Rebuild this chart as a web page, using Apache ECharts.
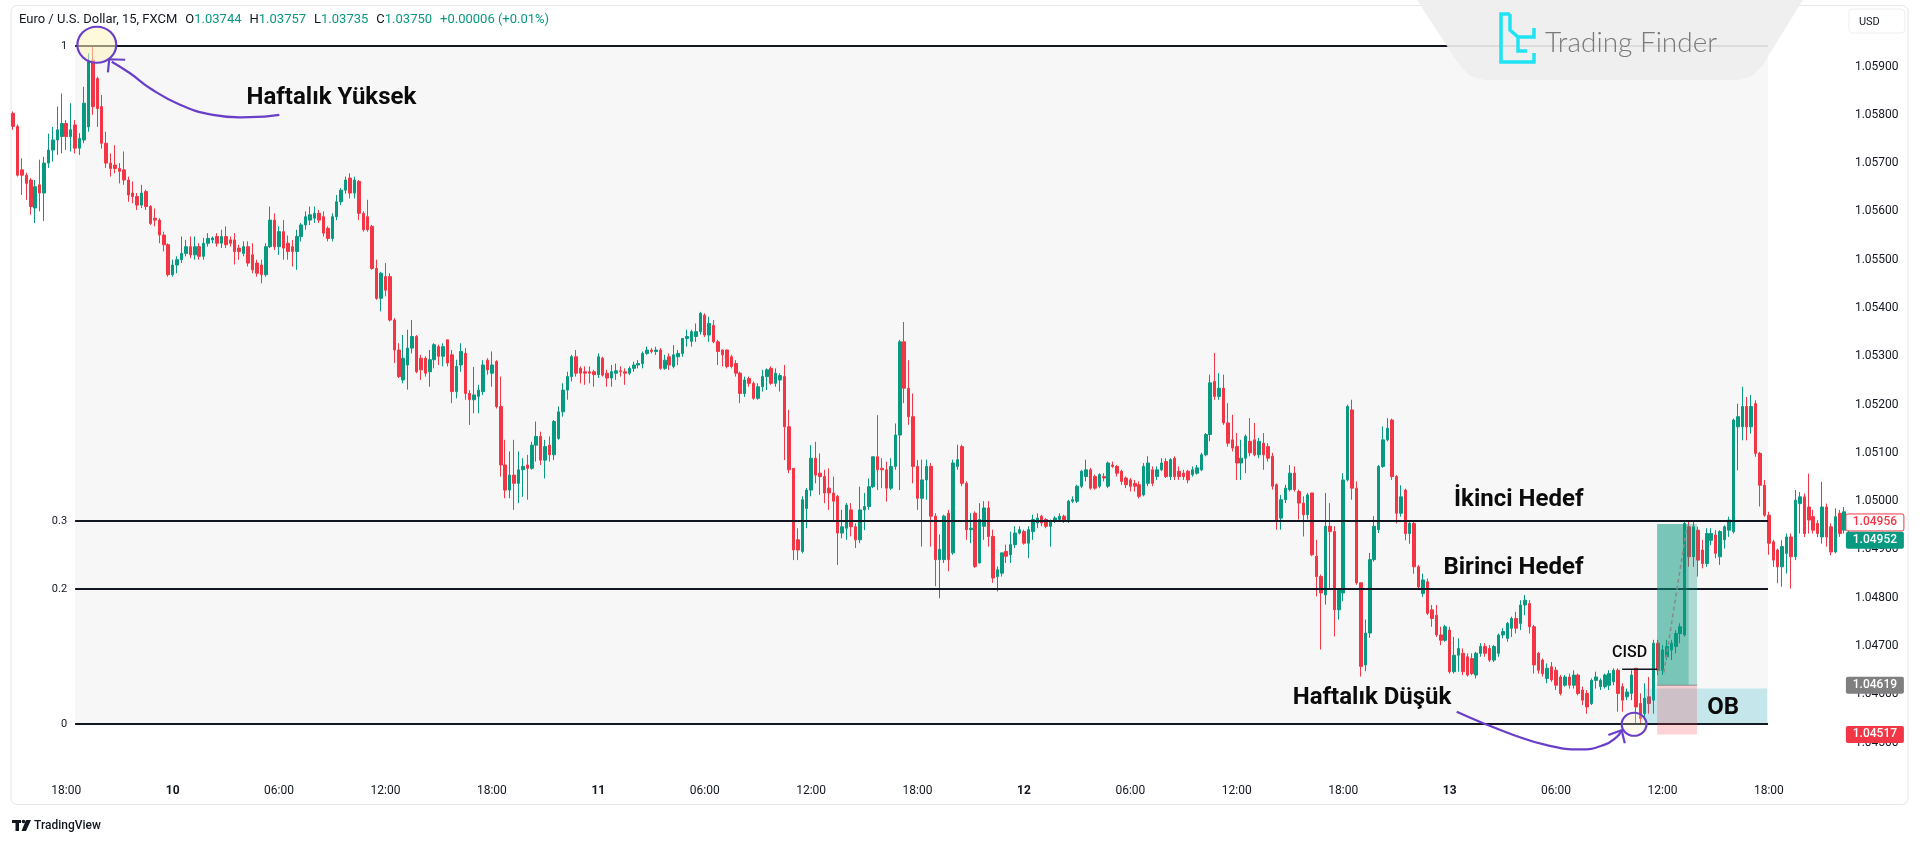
<!DOCTYPE html>
<html>
<head>
<meta charset="utf-8">
<script src="https://cdn.jsdelivr.net/npm/echarts@6/dist/echarts.min.js"></script>
<style>
html,body{margin:0;padding:0;background:#fff;}
#c{width:1920px;height:842px;}
</style>
</head>
<body>
<div id="c"></div>
<script>
// ===== Data (EUR/USD, 15 min, FXCM) =====
const START_UTC = Date.UTC(2024, 11, 9, 15, 0); // first candle: day 9, 15:00
const open = [
1.05803,1.05776,1.05686,1.05675,1.05665,1.05607,1.05655,1.05638,1.05700,1.05727,
1.05748,1.05755,1.05782,1.05755,1.05779,1.05731,1.05748,1.05775,1.05913,1.05875,
1.05817,1.05741,1.05700,1.05696,1.05689,1.05686,1.05665,1.05638,1.05631,1.05613,
1.05641,1.05610,1.05586,1.05582,1.05551,1.05531,1.05469,1.05489,1.05500,1.05513,
1.05527,1.05510,1.05527,1.05507,1.05534,1.05541,1.05548,1.05534,1.05548,1.05541,
1.05541,1.05524,1.05513,1.05527,1.05510,1.05493,1.05489,1.05469,1.05527,1.05582,
1.05527,1.05558,1.05534,1.05527,1.05517,1.05548,1.05572,1.05582,1.05586,1.05596,
1.05589,1.05565,1.05544,1.05589,1.05620,1.05644,1.05669,1.05638,1.05662,1.05596,
1.05589,1.05569,1.05482,1.05420,1.05465,1.05465,1.05375,1.05313,1.05251,1.05282,
1.05317,1.05341,1.05296,1.05296,1.05268,1.05293,1.05320,1.05300,1.05334,1.05303,
1.05227,1.05282,1.05306,1.05223,1.05210,1.05217,1.05227,1.05292,1.05265,1.05289,
1.05196,1.05075,1.05023,1.05054,1.05037,1.05065,1.05075,1.05068,1.05116,1.05134,
1.05085,1.05116,1.05096,1.05130,1.05185,1.05230,1.05258,1.05299,1.05275,1.05268,
1.05268,1.05268,1.05262,1.05296,1.05265,1.05255,1.05265,1.05270,1.05268,1.05265,
1.05275,1.05282,1.05285,1.05306,1.05313,1.05310,1.05313,1.05275,1.05299,1.05279,
1.05299,1.05306,1.05337,1.05331,1.05341,1.05351,1.05385,1.05344,1.05364,1.05330,
1.05313,1.05313,1.05299,1.05285,1.05265,1.05223,1.05254,1.05244,1.05213,1.05237,
1.05258,1.05275,1.05244,1.05251,1.05258,1.05154,1.05068,1.04920,1.04896,1.04985,
1.05023,1.05089,1.05058,1.05051,1.05027,1.05017,1.05010,1.04934,1.04944,1.04982,
1.04947,1.04920,1.04982,1.04989,1.05030,1.05092,1.05068,1.05065,1.05027,1.05072,
1.05137,1.05330,1.05234,1.05175,1.05072,1.05006,1.05044,1.05072,1.04969,1.04879,
1.04879,1.04975,1.04893,1.05072,1.05113,1.05037,1.04941,1.04975,1.04872,1.04948,
1.04986,1.04927,1.04844,1.04851,1.04896,1.04889,1.04910,1.04934,1.04937,1.04913,
1.04937,1.04955,1.04969,1.04962,1.04948,1.04958,1.04962,1.04969,1.04958,1.05000,
1.05000,1.05031,1.05051,1.05065,1.05051,1.05031,1.05051,1.05031,1.05075,1.05072,
1.05062,1.05048,1.05044,1.05037,1.05034,1.05013,1.05037,1.05065,1.05051,1.05065,
1.05082,1.05051,1.05089,1.05062,1.05058,1.05062,1.05055,1.05058,1.05065,1.05096,
1.05138,1.05248,1.05217,1.05234,1.05162,1.05127,1.05113,1.05079,1.05089,1.05124,
1.05127,1.05096,1.05120,1.05113,1.05093,1.05034,1.04965,1.05003,1.05024,1.05058,
1.05020,1.04996,1.04972,1.05017,1.04886,1.04844,1.04806,1.04948,1.04937,1.04775,
1.04810,1.05044,1.05189,1.05027,1.04831,1.04661,1.04727,1.04879,1.04941,1.05072,
1.05127,1.05168,1.05051,1.04975,1.05023,1.04933,1.04954,1.04864,1.04809,1.04833,
1.04775,1.04764,1.04723,1.04712,1.04733,1.04647,1.04681,1.04685,1.04678,1.04674,
1.04640,1.04685,1.04699,1.04695,1.04671,1.04685,1.04723,1.04716,1.04737,1.04757,
1.04747,1.04785,1.04788,1.04740,1.04685,1.04671,1.04633,1.04657,1.04650,1.04636,
1.04619,1.04636,1.04619,1.04640,1.04609,1.04602,1.04581,1.04629,1.04616,1.04616,
1.04619,1.04626,1.04650,1.04616,1.04595,1.04602,1.04654,1.04581,1.04560,1.04595,
1.04588,1.04706,1.04650,1.04678,1.04692,1.04699,1.04726,1.04723,1.04947,1.04885,
1.04940,1.04899,1.04871,1.04919,1.04930,1.04885,1.04920,1.04940,1.04937,1.05154,
1.05154,1.05196,1.05154,1.05202,1.05099,1.05033,1.04971,1.04916,1.04899,1.04864,
1.04892,1.04926,1.04885,1.04995,1.05009,1.04988,1.04968,1.04954,1.04926,1.04988,
1.04947,1.04895,1.04975,1.04940,1.04943
];
const high = [
1.05807,1.05780,1.05710,1.05680,1.05669,1.05665,1.05707,1.05713,1.05761,1.05775,
1.05817,1.05844,1.05789,1.05824,1.05789,1.05762,1.05858,1.05927,1.05943,1.05879,
1.05841,1.05765,1.05720,1.05737,1.05700,1.05724,1.05672,1.05662,1.05638,1.05655,
1.05645,1.05613,1.05606,1.05586,1.05558,1.05534,1.05500,1.05507,1.05548,1.05541,
1.05548,1.05548,1.05534,1.05545,1.05555,1.05548,1.05555,1.05562,1.05569,1.05548,
1.05555,1.05531,1.05538,1.05538,1.05534,1.05500,1.05500,1.05534,1.05610,1.05596,
1.05569,1.05582,1.05550,1.05541,1.05562,1.05576,1.05600,1.05610,1.05610,1.05603,
1.05600,1.05569,1.05596,1.05634,1.05648,1.05672,1.05679,1.05672,1.05665,1.05600,
1.05624,1.05572,1.05500,1.05475,1.05493,1.05472,1.05379,1.05327,1.05344,1.05355,
1.05375,1.05344,1.05303,1.05300,1.05313,1.05327,1.05324,1.05327,1.05334,1.05313,
1.05293,1.05327,1.05317,1.05230,1.05278,1.05241,1.05292,1.05296,1.05310,1.05292,
1.05258,1.05127,1.05103,1.05127,1.05103,1.05089,1.05096,1.05123,1.05165,1.05144,
1.05127,1.05134,1.05168,1.05196,1.05244,1.05268,1.05303,1.05313,1.05279,1.05279,
1.05279,1.05272,1.05306,1.05299,1.05272,1.05282,1.05285,1.05279,1.05275,1.05279,
1.05289,1.05292,1.05310,1.05320,1.05317,1.05320,1.05317,1.05303,1.05306,1.05323,
1.05313,1.05337,1.05355,1.05355,1.05368,1.05392,1.05389,1.05382,1.05375,1.05334,
1.05314,1.05314,1.05303,1.05292,1.05268,1.05258,1.05258,1.05248,1.05244,1.05272,
1.05275,1.05279,1.05275,1.05265,1.05282,1.05189,1.05068,1.04944,1.05010,1.05027,
1.05116,1.05123,1.05099,1.05065,1.05068,1.05051,1.05013,1.04982,1.04996,1.04996,
1.04954,1.05030,1.05017,1.05047,1.05092,1.05178,1.05089,1.05082,1.05089,1.05161,
1.05334,1.05371,1.05292,1.05223,1.05085,1.05086,1.05086,1.05079,1.04975,1.04931,
1.04972,1.04982,1.05086,1.05117,1.05117,1.05041,1.04975,1.04979,1.04996,1.05000,
1.05000,1.04941,1.04865,1.04893,1.04910,1.04937,1.04948,1.04948,1.04941,1.04948,
1.04972,1.04975,1.04972,1.04965,1.04962,1.04969,1.04975,1.04972,1.05003,1.05010,
1.05034,1.05065,1.05086,1.05069,1.05055,1.05058,1.05058,1.05082,1.05082,1.05075,
1.05065,1.05051,1.05048,1.05044,1.05041,1.05079,1.05093,1.05072,1.05072,1.05089,
1.05089,1.05089,1.05093,1.05072,1.05065,1.05065,1.05072,1.05075,1.05100,1.05141,
1.05262,1.05307,1.05265,1.05262,1.05203,1.05179,1.05141,1.05127,1.05138,1.05172,
1.05162,1.05131,1.05141,1.05120,1.05100,1.05037,1.05013,1.05034,1.05075,1.05072,
1.05024,1.05010,1.05017,1.05017,1.04920,1.04848,1.05017,1.04996,1.04948,1.04820,
1.05058,1.05200,1.05210,1.05041,1.04831,1.04755,1.04893,1.04969,1.05075,1.05155,
1.05172,1.05171,1.05054,1.05033,1.05026,1.04957,1.04961,1.04868,1.04850,1.04840,
1.04785,1.04785,1.04740,1.04744,1.04740,1.04719,1.04716,1.04695,1.04685,1.04685,
1.04688,1.04706,1.04706,1.04702,1.04702,1.04726,1.04737,1.04750,1.04761,1.04771,
1.04795,1.04806,1.04795,1.04744,1.04688,1.04674,1.04664,1.04667,1.04657,1.04640,
1.04640,1.04643,1.04650,1.04643,1.04616,1.04609,1.04633,1.04647,1.04633,1.04643,
1.04650,1.04654,1.04654,1.04623,1.04612,1.04650,1.04654,1.04602,1.04623,1.04636,
1.04713,1.04713,1.04702,1.04713,1.04713,1.04733,1.04747,1.04961,1.04961,1.04961,
1.04947,1.04920,1.04944,1.04944,1.04940,1.04940,1.04950,1.04968,1.05171,1.05202,
1.05237,1.05216,1.05220,1.05209,1.05102,1.05044,1.04978,1.04920,1.04902,1.04919,
1.04933,1.04933,1.05023,1.05019,1.05016,1.05057,1.04982,1.04961,1.05040,1.04995,
1.04954,1.04985,1.04982,1.04988,1.04957
];
const low = [
1.05769,1.05672,1.05634,1.05624,1.05593,1.05576,1.05600,1.05580,1.05690,1.05703,
1.05717,1.05720,1.05727,1.05724,1.05720,1.05717,1.05741,1.05765,1.05800,1.05775,
1.05730,1.05690,1.05672,1.05679,1.05658,1.05655,1.05620,1.05617,1.05603,1.05607,
1.05603,1.05572,1.05569,1.05534,1.05517,1.05465,1.05465,1.05472,1.05493,1.05507,
1.05503,1.05500,1.05500,1.05500,1.05527,1.05534,1.05527,1.05524,1.05524,1.05527,
1.05490,1.05500,1.05507,1.05486,1.05472,1.05465,1.05451,1.05465,1.05524,1.05520,
1.05510,1.05500,1.05500,1.05486,1.05479,1.05538,1.05562,1.05572,1.05576,1.05576,
1.05548,1.05538,1.05538,1.05582,1.05613,1.05637,1.05627,1.05627,1.05582,1.05558,
1.05558,1.05479,1.05417,1.05393,1.05424,1.05372,1.05286,1.05255,1.05244,1.05231,
1.05306,1.05265,1.05251,1.05258,1.05237,1.05275,1.05282,1.05279,1.05279,1.05203,
1.05213,1.05268,1.05210,1.05158,1.05182,1.05182,1.05220,1.05262,1.05237,1.05192,
1.05051,1.05006,1.05006,1.04982,1.04996,1.05009,1.05003,1.05065,1.05082,1.05075,
1.05047,1.05082,1.05085,1.05127,1.05175,1.05210,1.05248,1.05258,1.05244,1.05241,
1.05244,1.05237,1.05255,1.05258,1.05237,1.05237,1.05251,1.05258,1.05241,1.05261,
1.05268,1.05275,1.05275,1.05303,1.05306,1.05303,1.05272,1.05272,1.05272,1.05275,
1.05282,1.05299,1.05320,1.05320,1.05330,1.05345,1.05340,1.05330,1.05327,1.05282,
1.05279,1.05275,1.05275,1.05258,1.05203,1.05216,1.05237,1.05210,1.05210,1.05227,
1.05230,1.05241,1.05237,1.05227,1.05085,1.05058,1.04878,1.04878,1.04892,1.04944,
1.05010,1.05037,1.05013,1.04996,1.04982,1.04961,1.04868,1.04923,1.04920,1.04927,
1.04903,1.04913,1.04940,1.04982,1.05027,1.05023,1.05027,1.04999,1.05023,1.05065,
1.05023,1.05203,1.05158,1.05037,1.04982,1.04906,1.05003,1.04906,1.04824,1.04799,
1.04872,1.04855,1.04889,1.05065,1.05031,1.04920,1.04913,1.04862,1.04872,1.04920,
1.04906,1.04831,1.04813,1.04844,1.04872,1.04872,1.04903,1.04931,1.04910,1.04882,
1.04920,1.04944,1.04948,1.04944,1.04906,1.04955,1.04958,1.04955,1.04955,1.04996,
1.04996,1.05027,1.05041,1.05024,1.05024,1.05027,1.05041,1.05027,1.05069,1.05051,
1.05034,1.05027,1.05020,1.05020,1.05006,1.05010,1.05031,1.05031,1.05044,1.05062,
1.05048,1.05044,1.05044,1.05044,1.05044,1.05037,1.05051,1.05055,1.05062,1.05093,
1.05124,1.05210,1.05210,1.05158,1.05113,1.05103,1.05044,1.05044,1.05058,1.05093,
1.05093,1.05089,1.05065,1.05082,1.05024,1.04941,1.04941,1.04996,1.05020,1.05020,
1.04962,1.04927,1.04962,1.04886,1.04803,1.04693,1.04786,1.04820,1.04720,1.04755,
1.04793,1.05041,1.05003,1.04827,1.04637,1.04648,1.04717,1.04875,1.04934,1.05069,
1.05124,1.05044,1.04954,1.04968,1.04919,1.04912,1.04850,1.04816,1.04802,1.04764,
1.04740,1.04719,1.04702,1.04709,1.04643,1.04643,1.04647,1.04640,1.04637,1.04640,
1.04633,1.04678,1.04678,1.04667,1.04667,1.04678,1.04716,1.04709,1.04719,1.04726,
1.04733,1.04764,1.04726,1.04643,1.04643,1.04637,1.04623,1.04626,1.04609,1.04598,
1.04616,1.04612,1.04612,1.04598,1.04578,1.04560,1.04578,1.04612,1.04609,1.04612,
1.04609,1.04619,1.04564,1.04564,1.04588,1.04588,1.04538,1.04538,1.04547,1.04560,
1.04560,1.04640,1.04640,1.04671,1.04671,1.04685,1.04706,1.04720,1.04864,1.04864,
1.04844,1.04861,1.04864,1.04909,1.04882,1.04868,1.04902,1.04926,1.04933,1.05064,
1.05126,1.05126,1.05140,1.05092,1.04989,1.04968,1.04889,1.04864,1.04830,1.04823,
1.04850,1.04819,1.04878,1.04933,1.04926,1.04933,1.04933,1.04926,1.04912,1.04906,
1.04888,1.04892,1.04926,1.04933,1.04905
];
const close = [
1.05776,1.05675,1.05675,1.05658,1.05610,1.05651,1.05638,1.05700,1.05727,1.05748,
1.05769,1.05782,1.05755,1.05769,1.05731,1.05751,1.05824,1.05910,1.05817,1.05813,
1.05741,1.05700,1.05689,1.05689,1.05683,1.05665,1.05634,1.05631,1.05613,1.05638,
1.05610,1.05575,1.05582,1.05551,1.05531,1.05469,1.05489,1.05500,1.05513,1.05527,
1.05510,1.05527,1.05507,1.05534,1.05544,1.05545,1.05534,1.05548,1.05531,1.05534,
1.05517,1.05517,1.05527,1.05493,1.05479,1.05472,1.05469,1.05527,1.05582,1.05527,
1.05558,1.05524,1.05517,1.05517,1.05548,1.05572,1.05589,1.05593,1.05596,1.05582,
1.05555,1.05544,1.05589,1.05620,1.05644,1.05665,1.05638,1.05665,1.05596,1.05562,
1.05562,1.05482,1.05420,1.05472,1.05437,1.05375,1.05313,1.05258,1.05296,1.05317,
1.05341,1.05268,1.05272,1.05265,1.05293,1.05324,1.05300,1.05320,1.05286,1.05227,
1.05279,1.05310,1.05223,1.05210,1.05220,1.05230,1.05282,1.05272,1.05282,1.05196,
1.05075,1.05023,1.05054,1.05037,1.05065,1.05072,1.05068,1.05116,1.05134,1.05085,
1.05113,1.05096,1.05165,1.05185,1.05230,1.05258,1.05299,1.05265,1.05265,1.05265,
1.05265,1.05262,1.05299,1.05261,1.05255,1.05268,1.05270,1.05268,1.05265,1.05275,
1.05282,1.05285,1.05306,1.05313,1.05310,1.05313,1.05275,1.05292,1.05282,1.05303,
1.05306,1.05337,1.05341,1.05351,1.05351,1.05389,1.05344,1.05368,1.05330,1.05310,
1.05303,1.05279,1.05279,1.05265,1.05223,1.05251,1.05244,1.05213,1.05237,1.05258,
1.05272,1.05244,1.05265,1.05260,1.05154,1.05065,1.04899,1.04899,1.05003,1.05023,
1.05089,1.05054,1.05051,1.05017,1.05017,1.05000,1.04934,1.04947,1.04992,1.04947,
1.04920,1.04982,1.04989,1.05030,1.05092,1.05065,1.05065,1.05027,1.05072,1.05137,
1.05330,1.05234,1.05175,1.05072,1.05006,1.05044,1.05072,1.04969,1.04879,1.04900,
1.04969,1.04879,1.05079,1.05086,1.05037,1.04941,1.04944,1.04865,1.04962,1.04986,
1.04927,1.04841,1.04858,1.04893,1.04886,1.04910,1.04934,1.04941,1.04913,1.04941,
1.04962,1.04965,1.04955,1.04948,1.04958,1.04965,1.04969,1.04958,1.05000,1.05003,
1.05031,1.05062,1.05065,1.05027,1.05027,1.05055,1.05048,1.05079,1.05072,1.05058,
1.05041,1.05034,1.05031,1.05031,1.05010,1.05072,1.05079,1.05037,1.05065,1.05079,
1.05051,1.05086,1.05051,1.05051,1.05051,1.05044,1.05065,1.05069,1.05096,1.05138,
1.05245,1.05217,1.05234,1.05162,1.05120,1.05110,1.05079,1.05089,1.05134,1.05100,
1.05096,1.05124,1.05096,1.05089,1.05031,1.04958,1.05003,1.05027,1.05058,1.05024,
1.04996,1.04972,1.05013,1.04889,1.04844,1.04810,1.04948,1.04937,1.04775,1.04817,
1.05044,1.05196,1.05027,1.04831,1.04658,1.04727,1.04879,1.04948,1.05072,1.05127,
1.05151,1.05051,1.04975,1.05009,1.04933,1.04954,1.04864,1.04823,1.04837,1.04768,
1.04757,1.04723,1.04712,1.04740,1.04647,1.04681,1.04695,1.04647,1.04640,1.04643,
1.04685,1.04699,1.04685,1.04671,1.04699,1.04723,1.04730,1.04747,1.04757,1.04737,
1.04785,1.04795,1.04740,1.04661,1.04650,1.04643,1.04654,1.04630,1.04619,1.04602,
1.04636,1.04619,1.04640,1.04602,1.04588,1.04574,1.04629,1.04636,1.04629,1.04640,
1.04643,1.04650,1.04602,1.04588,1.04605,1.04640,1.04574,1.04550,1.04592,1.04581,
1.04706,1.04650,1.04692,1.04699,1.04706,1.04726,1.04740,1.04954,1.04885,1.04947,
1.04878,1.04871,1.04933,1.04933,1.04892,1.04937,1.04947,1.04961,1.05168,1.05175,
1.05196,1.05154,1.05196,1.05099,1.05033,1.04971,1.04913,1.04878,1.04864,1.04906,
1.04926,1.04885,1.05002,1.05009,1.04933,1.04961,1.04940,1.04933,1.04988,1.04926,
1.04895,1.04968,1.04933,1.04978,1.04952
];

// Fibonacci retracement (weekly high / weekly low)
const fibHigh = 1.05943, fibLow = 1.04538;
const fibLevels = [1, 0.3, 0.2, 0];
const fibFromIdx = 14, fibToIdx = 395.8;

// Long position tool / OB / CISD
const entryPrice = 1.04619, targetPrice = 1.04953, stopPrice = 1.04517;
const posFromIdx = 370.8, posToIdx = 379.8, posProgressIdx = 377.9;
const obTop = 1.04612, obBottom = 1.04540, obFromIdx = 368.0, obToIdx = 395.6;
const cisdPrice = 1.04652, cisdFromIdx = 362.9, cisdToIdx = 370.8;

// Price tags on the right scale
const lastPrice = 1.04952, fibTagPrice = 1.04956;

// Annotation texts [text, index, price, fontSize, weight]
const notes = [
  ['Haftalık Yüksek', 71.8, 1.05835, 24, 'bold'],
  ['İkinci Hedef', 339.6, 1.05003, 24, 'bold'],
  ['Birinci Hedef', 338.4, 1.04862, 24, 'bold'],
  ['Haftalık Düşük', 306.5, 1.04592, 24, 'bold'],
  ['CISD', 364.6, 1.04686, 16, '500'],
  ['OB', 385.7, 1.04572, 24, 'bold']
];
// hand-drawn arrows, points as [index, price]
const arrowHigh = [[60.06,1.05800],[53.45,1.05795],[45.1,1.05800],[37.66,1.05821],[30.9,1.05855],[26.4,1.05886],[22.26,1.05910]];
const arrowHighHead = [[25.3,1.05914],[21.7,1.05915],[21.4,1.05888]];
const arrowLow = [[325.6,1.04564],[330.9,1.04543],[338.4,1.04516],[345.9,1.04495],[353.4,1.04486],[358.7,1.04495],[361.7,1.04512],[362.8,1.04526]];
const arrowLowHead = [[359.8,1.04516],[362.8,1.04526],[363.5,1.04499]];
const circleHigh = [18.9, 1.05945], circleLow = [365.6, 1.04538];

// ===== Build =====
const pad = n => String(n).padStart(2, '0');
const times = open.map((_, i) => {
  const d = new Date(START_UTC + i * 15 * 60000);
  return d.getUTCFullYear() + '-' + pad(d.getUTCMonth() + 1) + '-' + pad(d.getUTCDate()) + ' ' + pad(d.getUTCHours()) + ':' + pad(d.getUTCMinutes());
});
const candles = open.map((o, i) => [o, close[i], low[i], high[i]]);

const FONT = 'Roboto, "Noto Sans", sans-serif';
const chart = echarts.init(document.getElementById('c'), null, {renderer: 'canvas', width: 1920, height: 842});

chart.setOption({
  animation: false,
  backgroundColor: '#ffffff',
  textStyle: {fontFamily: FONT},
  grid: {left: 10.8, right: 69.1, top: 10, bottom: 66, containLabel: false},
  xAxis: {
    type: 'category', data: times, boundaryGap: true,
    axisLine: {show: false}, axisTick: {show: false}, splitLine: {show: false},
    axisLabel: {
      color: '#131722', fontSize: 12, margin: 9, fontFamily: FONT,
      interval: (i, v) => v.slice(14, 16) === '00' && (+v.slice(11, 13)) % 6 === 0,
      formatter: v => v.slice(11, 13) === '00' ? '{d|' + (+v.slice(8, 10)) + '}' : v.slice(11, 16),
      rich: {d: {fontWeight: 'bold', fontSize: 12, color: '#131722', fontFamily: FONT}}
    }
  },
  yAxis: {
    type: 'value', position: 'right', scale: true,
    min: 1.04431, max: 1.06017, splitNumber: 16,
    axisLine: {show: false}, axisTick: {show: false}, splitLine: {show: false},
    axisLabel: {
      color: '#131722', fontSize: 12, margin: 4, fontFamily: FONT,
      showMinLabel: false, showMaxLabel: false,
      formatter: v => (v > 1.0595 || v < 1.0445) ? '' : v.toFixed(5)
    }
  },
  series: [{
    type: 'candlestick', data: candles, barWidth: 3, z: 2,
    itemStyle: {color: '#089981', color0: '#f23645', borderColor: '#089981', borderColor0: '#f23645', borderWidth: 1}
  }]
});

function X(k) {
  const k0 = Math.floor(k), f = k - k0;
  const a = chart.convertToPixel({seriesIndex: 0}, [k0, fibLow])[0];
  const b = chart.convertToPixel({seriesIndex: 0}, [k0 + 1, fibLow])[0];
  return a + (b - a) * f;
}
function Y(p) { return chart.convertToPixel({seriesIndex: 0}, [0, p])[1]; }
const pt = a => [X(a[0]), Y(a[1])];

const els = [];
const rect = (x1, y1, x2, y2, fill, z, extra) => els.push(Object.assign({type: 'rect', silent: true, z: z,
  shape: {x: Math.min(x1, x2), y: Math.min(y1, y2), width: Math.abs(x2 - x1), height: Math.abs(y2 - y1)}, style: {fill: fill}}, extra || {}));
const text = (x, y, t, font, fill, align, z) => els.push({type: 'text', silent: true, z: z, x: x, y: y,
  style: {text: t, font: font, fill: fill, align: align, textAlign: align, verticalAlign: 'middle', textVerticalAlign: 'middle'}});

// Fib fill and lines
const fx1 = X(fibFromIdx), fx2 = X(fibToIdx);
rect(fx1, Y(fibHigh), fx2, Y(fibLow), '#f7f7f7', 1);
fibLevels.forEach(l => {
  const y = Math.round(Y(fibLow + l * (fibHigh - fibLow)));
  els.push({type: 'line', silent: true, z: 6, shape: {x1: fx1, y1: y, x2: fx2, y2: y}, style: {stroke: '#131722', lineWidth: 2}});
  text(fx1 - 8, y, String(l), '11px ' + FONT, '#131722', 'right', 6);
});

// OB box
rect(X(obFromIdx), Y(obTop), X(obToIdx), Y(obBottom), 'rgba(0,172,193,0.20)', 7);
// position tool
rect(X(posFromIdx), Y(targetPrice), X(posToIdx), Y(entryPrice), 'rgba(8,153,129,0.30)', 8);
rect(X(posFromIdx), Y(targetPrice), X(posProgressIdx), Y(entryPrice), 'rgba(8,153,129,0.32)', 8);
rect(X(posFromIdx), Y(entryPrice), X(posToIdx), Y(stopPrice), 'rgba(242,54,69,0.22)', 8);
els.push({type: 'line', silent: true, z: 9, shape: {x1: X(posFromIdx), y1: Y(entryPrice), x2: X(posToIdx), y2: Y(entryPrice)}, style: {stroke: '#8f8f8f', lineWidth: 1}});
els.push({type: 'line', silent: true, z: 9, shape: {x1: X(372.3), y1: Y(1.04645), x2: X(377.5), y2: Y(1.04947)}, style: {stroke: '#8a8a8a', lineWidth: 1.5, lineDash: [4, 3]}});
// CISD line
els.push({type: 'line', silent: true, z: 9, shape: {x1: X(cisdFromIdx), y1: Y(cisdPrice), x2: X(cisdToIdx), y2: Y(cisdPrice)}, style: {stroke: '#131722', lineWidth: 1.5}});

// circles
const c1 = pt(circleHigh), c2 = pt(circleLow);
els.push({type: 'circle', silent: true, z: 11, x: c1[0], y: c1[1], scaleX: 1.08, shape: {cx: 0, cy: 0, r: 18}, style: {fill: 'rgba(255,244,190,0.55)', stroke: '#6a3fc8', lineWidth: 2}});
els.push({type: 'circle', silent: true, z: 11, x: c2[0], y: c2[1], scaleX: 1.08, shape: {cx: 0, cy: 0, r: 11.5}, style: {fill: 'rgba(255,244,190,0.25)', stroke: '#6a3fc8', lineWidth: 2}});
// arrows
[[arrowHigh, arrowHighHead], [arrowLow, arrowLowHead]].forEach(([a, h]) => {
  els.push({type: 'polyline', silent: true, z: 11, shape: {points: a.map(pt), smooth: 0.5}, style: {stroke: '#6a3fc8', lineWidth: 2.2, fill: null}});
  els.push({type: 'polyline', silent: true, z: 11, shape: {points: h.map(pt)}, style: {stroke: '#6a3fc8', lineWidth: 2.2, fill: null}});
});
// notes
notes.forEach(([t, k, p, s, w]) => text(X(k), Y(p), t, w + ' ' + s + 'px ' + FONT, '#0b0b0b', 'center', 12));

// right scale tags
const band = X(1) - X(0);
const scaleX = X(open.length - 1) + band / 2;
const tag = (p, dy, fill, stroke, color) => {
  const y = Y(p) + dy;
  els.push({type: 'rect', silent: true, z: 20, shape: {x: scaleX - 5, y: y - 8.5, width: 58, height: 17, r: 2}, style: {fill: fill, stroke: stroke, lineWidth: 1}});
  text(scaleX + 24, y, p.toFixed(5), '500 12px ' + FONT, color, 'center', 21);
};
tag(fibTagPrice, 0, '#ffffff', '#f23645', '#f23645');
tag(lastPrice, 16, '#089981', null, '#ffffff');
tag(entryPrice, 0, '#7f7f7f', null, '#ffffff');
tag(stopPrice, 0, '#f23645', null, '#ffffff');

// USD box
els.push({type: 'rect', silent: true, z: 20, shape: {x: scaleX - 2, y: 9, width: 56, height: 24, r: 4}, style: {fill: '#ffffff', stroke: '#eeeeee', lineWidth: 1}});
text(scaleX + 8, 22, 'USD', '11px ' + FONT, '#131722', 'left', 21);

// Header (symbol + OHLC)
const mctx = document.createElement('canvas').getContext('2d');
const hFont = '13px ' + FONT;
mctx.font = hFont;
let hx = 19;
[['Euro / U.S. Dollar, 15, FXCM', '#131722', 8], ['O', '#131722', 0], ['1.03744', '#089981', 8], ['H', '#131722', 0], ['1.03757', '#089981', 8],
 ['L', '#131722', 0], ['1.03735', '#089981', 8], ['C', '#131722', 0], ['1.03750', '#089981', 8], ['+0.00006 (+0.01%)', '#089981', 0]].forEach(([t, c, g]) => {
  text(hx, 20, t, hFont, c, 'left', 20);
  hx += mctx.measureText(t).width + g;
});

// Trading Finder watermark
els.push({type: 'polygon', silent: true, z: 18, shape: {points: [[1417, 0], [1803, 0], [1762, 66], [1752, 76], [1738, 80], [1484, 80], [1470, 76], [1460, 66]]}, style: {fill: 'rgba(238,238,238,0.92)'}});
const cy = '#1ee3f2';
els.push({type: 'polyline', silent: true, z: 19, shape: {points: [[1510, 14], [1501, 14], [1501, 62], [1534, 62], [1534, 53]]}, style: {stroke: cy, lineWidth: 3.5, fill: null}});
els.push({type: 'polyline', silent: true, z: 19, shape: {points: [[1510, 14], [1510, 30], [1518, 37], [1534, 37], [1534, 28]]}, style: {stroke: cy, lineWidth: 3.5, fill: null}});
els.push({type: 'polyline', silent: true, z: 19, shape: {points: [[1518, 37], [1518, 51], [1527, 51]]}, style: {stroke: cy, lineWidth: 3.5, fill: null}});
text(1545, 43, 'Trading Finder', '300 28px Lato, ' + FONT, '#7a7a7a', 'left', 19);

// TradingView footer
els.push({type: 'rect', silent: true, z: 20, shape: {x: 12, y: 820, width: 9, height: 3}, style: {fill: '#131722'}});
els.push({type: 'rect', silent: true, z: 20, shape: {x: 15.5, y: 820, width: 3.5, height: 11}, style: {fill: '#131722'}});
els.push({type: 'circle', silent: true, z: 20, shape: {cx: 23.5, cy: 821.5, r: 1.8}, style: {fill: '#131722'}});
els.push({type: 'polygon', silent: true, z: 20, shape: {points: [[26, 820], [31, 820], [26, 831], [21.5, 831]]}, style: {fill: '#131722'}});
text(34, 826, 'TradingView', '500 12px ' + FONT, '#131722', 'left', 20);

// chart frame
els.push({type: 'rect', silent: true, z: 0, shape: {x: 11, y: 5.5, width: 1897, height: 799, r: 6}, style: {fill: null, stroke: '#e6e6e6', lineWidth: 1}});

chart.setOption({graphic: {elements: els}});
</script>
</body>
</html>
